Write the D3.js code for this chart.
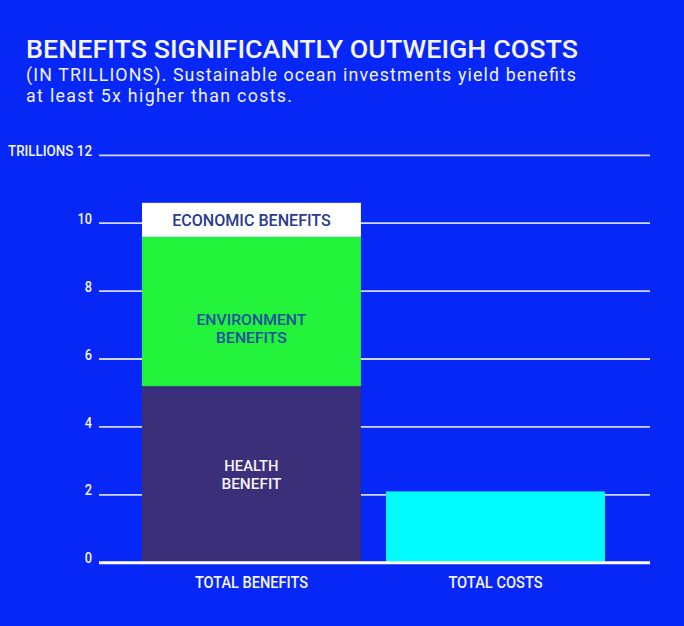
<!DOCTYPE html>
<html><head><meta charset="utf-8">
<script src="https://cdn.jsdelivr.net/npm/d3@7"></script>
<style>
html,body{margin:0;padding:0;background:#0627f5;}
svg{display:block;}
text{font-family:"Roboto","Liberation Sans",sans-serif;}
</style></head>
<body>
<svg id="c" width="684" height="626"></svg>
<script>
const categories = ["TOTAL BENEFITS", "TOTAL COSTS"];
const segmentNames = ["HEALTH BENEFIT", "ENVIRONMENT BENEFITS", "ECONOMIC BENEFITS"];
const benefitValues = [5.2, 4.4, 1.0];
const costValues = [2.1];
const yTicks = [0, 2, 4, 6, 8, 10, 12];
const yTickLabels = ["0", "2", "4", "6", "8", "10", "TRILLIONS 12"];
const titleText = "BENEFITS SIGNIFICANTLY OUTWEIGH COSTS";
const subtitleLines = ["(IN TRILLIONS). Sustainable ocean investments yield benefits", "at least 5x higher than costs."];

const W = 684, H = 626;
const svg = d3.select("#c");
svg.append("rect").attr("width", W).attr("height", H).attr("fill", "#0627f5");

const y = d3.scaleLinear().domain([0, 12]).range([562.7, 155.3]);
const x = d3.scaleBand().domain(categories).range([142, 605]).paddingInner(0.103).paddingOuter(0);
const gridX0 = 99, gridX1 = 650;

function fitWidth(sel, w) {
  sel.attr("textLength", w).attr("lengthAdjust", "spacingAndGlyphs");
  return sel;
}

// title
fitWidth(svg.append("text").attr("x", 26).attr("y", 58.3).attr("fill", "#f4f4ff")
  .attr("font-size", 26.5).attr("font-weight", 500).text(titleText), 552);
const subW = [550, 266];
subtitleLines.forEach((t, i) => {
  svg.append("text").attr("x", 26).attr("y", 80.8 + i * 21.5).attr("fill", "#f0f0ff")
    .attr("font-size", 17.8).attr("font-weight", 400)
    .attr("textLength", subW[i]).attr("lengthAdjust", "spacing").text(t);
});

// gridlines
const g = svg.append("g");
g.selectAll("line.grid").data(yTicks.filter(d => d > 0)).join("line")
  .attr("x1", gridX0).attr("x2", gridX1)
  .attr("y1", d => y(d)).attr("y2", d => y(d))
  .attr("stroke", "#d2d8ff").attr("stroke-width", 1.8);

// y labels
g.selectAll("text.yl").data(yTicks).join("text")
  .attr("x", 92).attr("y", d => y(d) + 0.6)
  .attr("text-anchor", "end").attr("fill", "#f4f4ff")
  .attr("font-size", 15.5).attr("font-weight", 500)
  .text((d, i) => yTickLabels[i])
  .each(function () {
    const w = this.getComputedTextLength();
    d3.select(this).attr("textLength", this.textContent.length > 3 ? 84 : w * 0.82)
      .attr("lengthAdjust", "spacingAndGlyphs");
  });

// stacked benefits
const segColors = ["#3a2f78", "#22f23a", "#ffffff"];
const segTextColors = ["#f4f4ff", "#1d50a0", "#2a3a8c"];
let acc = 0;
const segs = benefitValues.map((v, i) => { const s = {y0: acc, y1: acc + v, i}; acc += v; return s; });
g.selectAll("rect.seg").data(segs).join("rect")
  .attr("x", x(categories[0])).attr("width", x.bandwidth())
  .attr("y", d => y(d.y1)).attr("height", d => y(d.y0) - y(d.y1))
  .attr("fill", d => segColors[d.i]);

// cost bar
g.selectAll("rect.cost").data(costValues).join("rect")
  .attr("x", x(categories[1])).attr("width", x.bandwidth())
  .attr("y", d => y(d)).attr("height", d => y(0) - y(d))
  .attr("fill", "#00fcff");

// baseline
g.append("line").attr("x1", gridX0).attr("x2", gridX1)
  .attr("y1", y(0)).attr("y2", y(0))
  .attr("stroke", "#ffffff").attr("stroke-width", 3);

// segment labels
const segLabelLines = [["HEALTH", "BENEFIT"], ["ENVIRONMENT", "BENEFITS"], ["ECONOMIC BENEFITS"]];
const segLabelWidths = [[54.3, 60], [110, 70.7], [158.6]];
const segLabelOffsets = [0, 0.5, 0];
const segLineGap = 18;
const cx = x(categories[0]) + x.bandwidth() / 2;
segs.forEach(s => {
  const lines = segLabelLines[s.i];
  const mid = y((s.y0 + s.y1) / 2 - segLabelOffsets[s.i]);
  const fs = lines.length > 1 ? 15.5 : 17;
  lines.forEach((line, j) => {
    fitWidth(g.append("text").attr("x", cx)
      .attr("y", mid + (j - (lines.length - 1) / 2) * segLineGap + fs * 0.36)
      .attr("text-anchor", "middle").attr("fill", segTextColors[s.i])
      .attr("font-size", fs).attr("font-weight", 500).text(line), segLabelWidths[s.i][j]);
  });
});

// category labels
const catWidths = [113, 94.3];
g.selectAll("text.cat").data(categories).join("text")
  .attr("x", d => x(d) + x.bandwidth() / 2).attr("y", 588.4)
  .attr("text-anchor", "middle").attr("fill", "#f4f4ff")
  .attr("font-size", 17).attr("font-weight", 500)
  .attr("textLength", (d, i) => catWidths[i]).attr("lengthAdjust", "spacingAndGlyphs")
  .text(d => d);
</script>
</body></html>
